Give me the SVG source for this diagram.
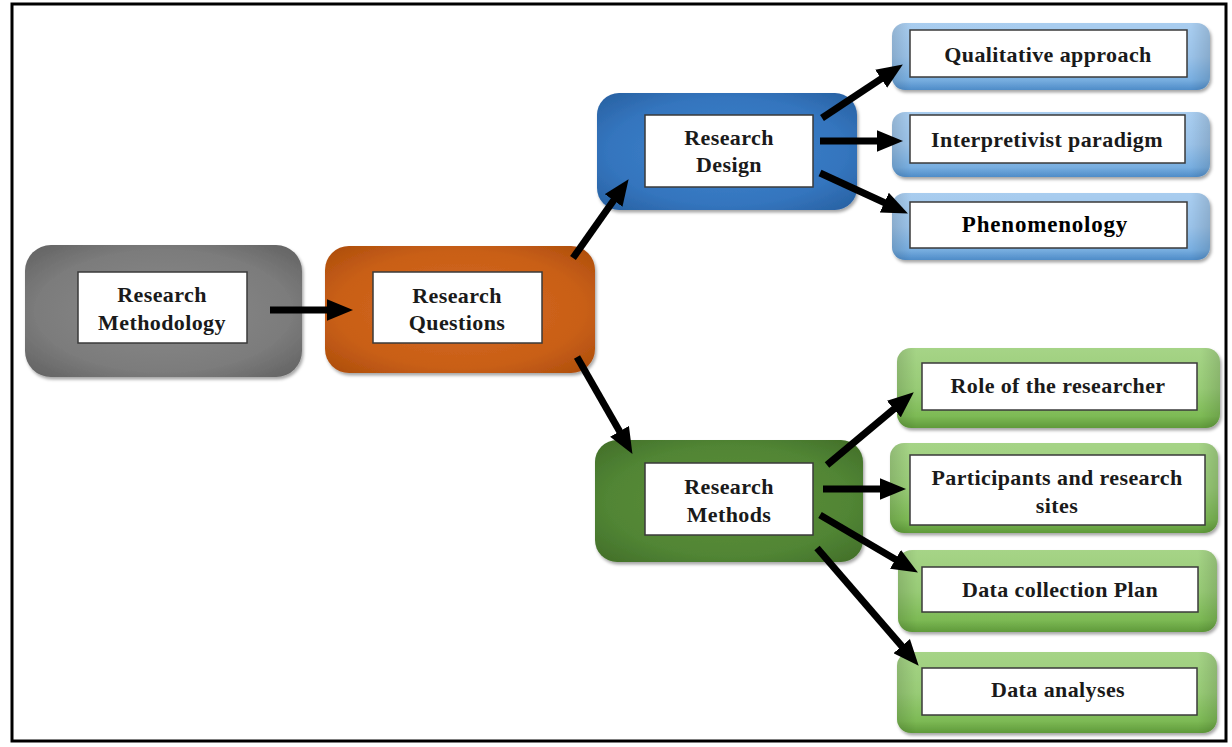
<svg xmlns="http://www.w3.org/2000/svg" width="1232" height="747" viewBox="0 0 1232 747">
<defs>
<style>
.lbl{font-family:"Liberation Serif","Times New Roman",serif;font-weight:bold;font-size:22px;fill:#1a1a1a;text-anchor:middle;letter-spacing:0.4px}
.inner{fill:#ffffff;stroke:#3a3a3a;stroke-width:1.5}
.conn{stroke:#000;stroke-width:7;fill:none;marker-end:url(#ah)}
</style>
<marker id="ah" markerUnits="userSpaceOnUse" markerWidth="26" markerHeight="22" viewBox="0 0 24 20" refX="12" refY="10" orient="auto">
<path d="M0,0 L24,10 L0,20 z" fill="#000"/>
</marker>
<filter id="sh" x="-10%" y="-10%" width="125%" height="130%">
<feDropShadow dx="1.5" dy="2.5" stdDeviation="1.5" flood-color="#000" flood-opacity="0.35"/>
</filter>
<radialGradient id="gGray" cx="50%" cy="50%" r="65%">
<stop offset="0" stop-color="#8a8a8a"/><stop offset="0.7" stop-color="#7c7c7c"/><stop offset="1" stop-color="#666"/>
</radialGradient>
<radialGradient id="gOrange" cx="50%" cy="50%" r="65%">
<stop offset="0" stop-color="#d46a22"/><stop offset="0.7" stop-color="#c95f17"/><stop offset="1" stop-color="#b1500e"/>
</radialGradient>
<radialGradient id="gBlue" cx="50%" cy="50%" r="65%">
<stop offset="0" stop-color="#3f84cc"/><stop offset="0.7" stop-color="#3475be"/><stop offset="1" stop-color="#2a64a6"/>
</radialGradient>
<radialGradient id="gGreen" cx="50%" cy="50%" r="65%">
<stop offset="0" stop-color="#5b8f3a"/><stop offset="0.7" stop-color="#518534"/><stop offset="1" stop-color="#44722b"/>
</radialGradient>
<linearGradient id="gLB" x1="0" y1="0" x2="0" y2="1">
<stop offset="0" stop-color="#a9cdef"/><stop offset="0.5" stop-color="#9ac2e8"/><stop offset="0.85" stop-color="#78aee0"/><stop offset="1" stop-color="#4f8cc8"/>
</linearGradient>
<linearGradient id="gLG" x1="0" y1="0" x2="0" y2="1">
<stop offset="0" stop-color="#a6d487"/><stop offset="0.5" stop-color="#98cb76"/><stop offset="0.85" stop-color="#7dba55"/><stop offset="1" stop-color="#5f9a3a"/>
</linearGradient>
<linearGradient id="gEdge" x1="0" y1="0" x2="1" y2="0">
<stop offset="0" stop-color="#000" stop-opacity="0.12"/><stop offset="0.06" stop-color="#000" stop-opacity="0"/><stop offset="0.94" stop-color="#000" stop-opacity="0"/><stop offset="1" stop-color="#000" stop-opacity="0.12"/>
</linearGradient>
</defs>

<rect x="0" y="0" width="1232" height="747" fill="#ffffff"/>
<rect id="frame" x="12" y="4" width="1214" height="737" fill="none" stroke="#000" stroke-width="3"/>

<g id="research-methodology">
<rect x="25" y="245" width="277" height="132" rx="26" fill="url(#gGray)" filter="url(#sh)"/>
<rect class="inner" x="78" y="272" width="169" height="71"/>
<text class="lbl" x="162" y="302">Research</text>
<text class="lbl" x="162" y="330">Methodology</text>
</g>

<g id="research-questions">
<rect x="325" y="246" width="270" height="127" rx="24" fill="url(#gOrange)" filter="url(#sh)"/>
<rect class="inner" x="373" y="272" width="169" height="71"/>
<text class="lbl" x="457" y="303">Research</text>
<text class="lbl" x="457" y="330">Questions</text>
</g>

<g id="research-design">
<rect x="597" y="93" width="260" height="117" rx="22" fill="url(#gBlue)" filter="url(#sh)"/>
<rect class="inner" x="645" y="115" width="168" height="72"/>
<text class="lbl" x="729" y="145">Research</text>
<text class="lbl" x="729" y="172">Design</text>
</g>

<g id="research-methods">
<rect x="595" y="440" width="268" height="122" rx="22" fill="url(#gGreen)" filter="url(#sh)"/>
<rect class="inner" x="645" y="463" width="168" height="72"/>
<text class="lbl" x="729" y="494">Research</text>
<text class="lbl" x="729" y="522">Methods</text>
</g>

<g id="qualitative-approach">
<rect x="892" y="23" width="318" height="67" rx="13" fill="url(#gLB)" filter="url(#sh)"/>
<rect x="892" y="23" width="318" height="67" rx="13" fill="url(#gEdge)"/>
<rect class="inner" x="910" y="30" width="277" height="47"/>
<text class="lbl" x="1048" y="62">Qualitative approach</text>
</g>

<g id="interpretivist-paradigm">
<rect x="892" y="112" width="318" height="65" rx="13" fill="url(#gLB)" filter="url(#sh)"/>
<rect x="892" y="112" width="318" height="65" rx="13" fill="url(#gEdge)"/>
<rect class="inner" x="910" y="115" width="275" height="48"/>
<text class="lbl" x="1047" y="147">Interpretivist paradigm</text>
</g>

<g id="phenomenology">
<rect x="892" y="193" width="318" height="67" rx="13" fill="url(#gLB)" filter="url(#sh)"/>
<rect x="892" y="193" width="318" height="67" rx="13" fill="url(#gEdge)"/>
<rect class="inner" x="910" y="202" width="277" height="46"/>
<text class="lbl" x="1045" y="232" style="font-size:23px;fill:#000;letter-spacing:0.8px">Phenomenology</text>
</g>

<g id="role-of-the-researcher">
<rect x="897" y="348" width="323" height="80" rx="14" fill="url(#gLG)" filter="url(#sh)"/>
<rect x="897" y="348" width="323" height="80" rx="14" fill="url(#gEdge)"/>
<rect class="inner" x="922" y="363" width="275" height="47"/>
<text class="lbl" x="1058" y="393">Role of the researcher</text>
</g>

<g id="participants">
<rect x="890" y="443" width="328" height="90" rx="14" fill="url(#gLG)" filter="url(#sh)"/>
<rect x="890" y="443" width="328" height="90" rx="14" fill="url(#gEdge)"/>
<rect class="inner" x="910" y="455" width="295" height="70"/>
<text class="lbl" x="1057" y="485">Participants and research</text>
<text class="lbl" x="1057" y="513">sites</text>
</g>

<g id="data-collection-plan">
<rect x="898" y="550" width="319" height="82" rx="14" fill="url(#gLG)" filter="url(#sh)"/>
<rect x="898" y="550" width="319" height="82" rx="14" fill="url(#gEdge)"/>
<rect class="inner" x="922" y="567" width="276" height="45"/>
<text class="lbl" x="1060" y="597">Data collection Plan</text>
</g>

<g id="data-analyses">
<rect x="897" y="652" width="320" height="81" rx="14" fill="url(#gLG)" filter="url(#sh)"/>
<rect x="897" y="652" width="320" height="81" rx="14" fill="url(#gEdge)"/>
<rect class="inner" x="922" y="668" width="275" height="47"/>
<text class="lbl" x="1058" y="697">Data analyses</text>
</g>

<g id="connectors">
<line class="conn" x1="270" y1="310" x2="340" y2="310"/>
<line class="conn" x1="573" y1="258" x2="621.1" y2="189.8"/>
<line class="conn" x1="577" y1="357" x2="626" y2="442.6"/>
<line class="conn" x1="822" y1="118" x2="892" y2="71.6"/>
<line class="conn" x1="820" y1="141" x2="890" y2="141"/>
<line class="conn" x1="820" y1="173" x2="896.1" y2="208"/>
<line class="conn" x1="827" y1="465" x2="903.8" y2="400.7"/>
<line class="conn" x1="823" y1="489" x2="893" y2="489"/>
<line class="conn" x1="820" y1="515" x2="906.7" y2="565.9"/>
<line class="conn" x1="817" y1="548" x2="910.2" y2="655.9"/>
</g>
</svg>
